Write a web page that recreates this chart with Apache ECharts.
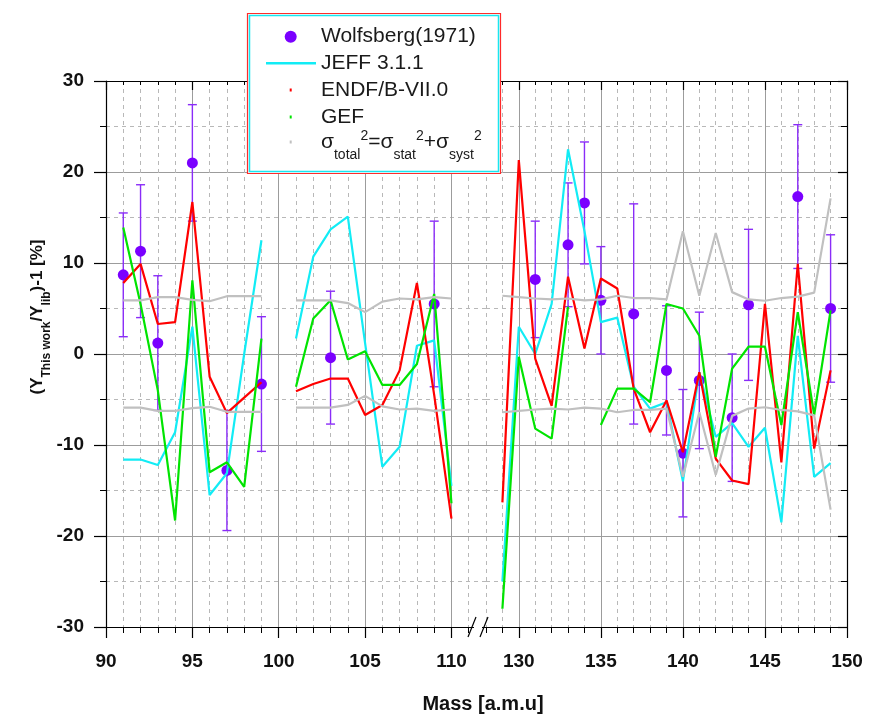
<!DOCTYPE html>
<html>
<head>
<meta charset="utf-8">
<script src="https://cdn.jsdelivr.net/npm/echarts@6/dist/echarts.min.js"></script>
<style>
  html, body { margin: 0; padding: 0; background: #fff; }
  #chart { width: 871px; height: 717px; }
</style>
</head>
<body>
<div id="chart"></div>
<script>
// ---- Light fragment group (A = 91..110), 100 has no value ----
const lightMass  = [91, 92, 93, 94, 95, 96, 97, 98, 99, 100, 101, 102, 103, 104, 105, 106, 107, 108, 109, 110];
const jeffLight  = [-11.6, -11.6, -12.2, -8.6, 3.0, -15.5, -13.1, 0.0, 12.5, null, 1.7, 10.7, 13.7, 15.1, 1.2, -12.4, -10.2, 0.9, 1.5, -14.5];
const endfLight  = [7.8, 9.9, 3.3, 3.5, 16.7, -2.5, -6.5, -4.8, -3.1, null, -4.1, -3.3, -2.7, -2.7, -6.7, -5.6, -1.8, 7.8, -4.5, -18.1];
const gefLight   = [13.9, 5.5, -4.0, -18.3, 8.1, -13.0, -11.9, -14.6, 1.7, null, -3.6, 3.9, 5.9, -0.6, 0.3, -3.4, -3.4, -1.1, 6.6, -16.4];
const sigmaLight = [5.9, 5.9, 6.25, 6.25, 5.95, 5.8, 6.35, 6.35, 6.35, null, 5.9, 5.9, 5.9, 5.6, 4.6, 5.75, 6.1, 6.0, 6.25, 6.1];

// ---- Heavy fragment group (A = 129..149), GEF has no value at 134 ----
const heavyMass  = [129, 130, 131, 132, 133, 134, 135, 136, 137, 138, 139, 140, 141, 142, 143, 144, 145, 146, 147, 148, 149];
const jeffHeavy  = [-25.0, 3.0, 0.0, 5.5, 22.5, 13.5, 3.5, 4.0, -3.6, -6.0, -5.3, -14.0, -2.0, -9.1, -7.6, -10.2, -8.1, -18.5, 2.0, -13.5, -12.0];
const endfHeavy  = [-16.3, 21.3, -0.5, -5.7, 8.5, 0.6, 8.3, 7.2, -3.8, -8.6, -5.1, -10.8, -2.0, -11.5, -13.9, -14.3, 5.5, -11.9, 9.9, -10.4, -1.8];
const gefHeavy   = [-28.0, -0.3, -8.2, -9.3, 5.2, null, -7.8, -3.8, -3.8, -5.3, 5.5, 5.0, 2.0, -11.3, -1.6, 0.8, 0.8, -7.8, 4.6, -6.7, 4.8];
const sigmaHeavy = [6.4, 6.25, 6.1, 6.0, 6.1, 5.9, 6.0, 6.4, 6.15, 6.15, 6.0, 13.5, 6.4, 13.3, 6.8, 6.0, 5.85, 6.15, 6.3, 6.75, 17.1];

// ---- Wolfsberg (1971) data points with their uncertainties ----
const wolfMass  = [91, 92, 93, 95, 97, 99, 103, 109, 131, 133, 134, 135, 137, 139, 140, 141, 143, 144, 147, 149];
const wolfValue = [8.7, 11.3, 1.2, 21.0, -12.8, -3.3, -0.4, 5.5, 8.2, 12.0, 16.6, 5.9, 4.4, -1.8, -10.9, -2.9, -7.0, 5.4, 17.3, 5.0];
const wolfError = [6.8, 7.3, 7.4, 6.4, 6.6, 7.4, 7.3, 9.1, 6.4, 6.8, 6.7, 5.9, 12.1, 7.1, 7.0, 7.5, 7.0, 8.3, 7.9, 8.1];

// ---- Axis ticks ----
const lightMajorTicks = [90, 95, 100, 105, 110];
const heavyMajorTicks = [130, 135, 140, 145, 150];
const yRange = [-30, 30];

const NAME_W = 'Wolfsberg(1971)';
const NAME_J = 'JEFF 3.1.1';
const NAME_E = 'ENDF/B-VII.0';
const NAME_G = 'GEF';
const NAME_S = 'σtotal2=σstat2+σsyst2';

const FONT = "'Liberation Sans', Arial, sans-serif";
const C_POINT = '#7a00ff', C_BAR = '#8a2cf8';
const C_JEFF = '#12ecf5', C_ENDF = '#ff0000', C_GEF = '#00e400', C_SIG = '#c0c0c0';
const C_MAJOR = '#9c9c9c', C_MINOR = '#b8b8b8';

const pairs = (ms, vs) => ms.map((m, i) => [m, vs[i] == null ? null : vs[i]]);
const signed = (vs, k) => vs.map(v => v == null ? null : k * v);

const wolfLight = [], wolfHeavy = [];
wolfMass.forEach((m, i) => (m < 120 ? wolfLight : wolfHeavy).push([m, wolfValue[i], wolfError[i]]));

// x axes: per grid a minor (every mass unit) and a major (every 5) axis, bottom and top
function xAxes(grid, min, max, majors) {
  const base = { type: 'value', gridIndex: grid, min: min, max: max };
  return [
    Object.assign({}, base, {
      position: 'bottom', interval: 1,
      axisLine: { show: true, onZero: false, lineStyle: { color: '#000', width: 1.2 } },
      axisTick: { show: true, inside: false, length: 6, lineStyle: { color: '#000', width: 1 } },
      axisLabel: { show: false },
      splitLine: { show: true, lineStyle: { color: C_MINOR, width: 1, type: [4, 4] } }
    }),
    Object.assign({}, base, {
      position: 'bottom',
      axisLine: { show: false, onZero: false },
      axisTick: { show: true, inside: false, length: 11, customValues: majors, lineStyle: { color: '#000', width: 1.2 } },
      axisLabel: { show: true, customValues: majors, margin: 25, fontSize: 19, fontWeight: 'bold', fontFamily: FONT, color: '#111' },
      splitLine: { show: true, lineStyle: { color: C_MAJOR, width: 1 } }
    }),
    Object.assign({}, base, {
      position: 'top', interval: 1,
      axisLine: { show: true, onZero: false, lineStyle: { color: '#000', width: 1.2 } },
      axisTick: { show: true, inside: true, length: 4, lineStyle: { color: '#000', width: 1 } },
      axisLabel: { show: false },
      splitLine: { show: false }
    }),
    Object.assign({}, base, {
      position: 'top',
      axisLine: { show: false, onZero: false },
      axisTick: { show: true, inside: true, length: 9, customValues: majors, lineStyle: { color: '#000', width: 1.2 } },
      axisLabel: { show: false },
      splitLine: { show: false }
    })
  ];
}

function yAxis(grid, pos, inside, labels) {
  return {
    type: 'value', gridIndex: grid, position: pos, min: yRange[0], max: yRange[1], interval: 10,
    axisLine: { show: true, onZero: false, lineStyle: { color: '#000', width: 1.2 } },
    axisTick: { show: true, inside: inside, length: inside ? 9 : 12, lineStyle: { color: '#000', width: 1.2 } },
    minorTick: { show: true, splitNumber: 2, length: 6, lineStyle: { color: '#000', width: 1 } },
    axisLabel: { show: labels, margin: 22, fontSize: 19, fontWeight: 'bold', fontFamily: FONT, color: '#111' },
    splitLine: { show: true, lineStyle: { color: C_MAJOR, width: 1 } },
    minorSplitLine: { show: true, lineStyle: { color: C_MINOR, width: 1, type: [4, 4] } }
  };
}

function lineSeries(name, color, data, xi, yi) {
  return {
    type: 'line', name: name, data: data, xAxisIndex: xi, yAxisIndex: yi,
    color: color, showSymbol: false, symbol: 'none', connectNulls: false,
    lineStyle: { color: color, width: 2.2 }, itemStyle: { color: color, opacity: 1 },
    silent: true, z: 3, animation: false
  };
}

function pointSeries(data, xi, yi) {
  return {
    type: 'scatter', name: NAME_W, data: data, xAxisIndex: xi, yAxisIndex: yi,
    encode: { x: 0, y: 1 }, symbol: 'circle', symbolSize: 11,
    itemStyle: { color: C_POINT, opacity: 1 }, color: C_POINT, silent: true, z: 2, animation: false
  };
}

function errorSeries(data, xi, yi) {
  return {
    type: 'custom', name: NAME_W, data: data, xAxisIndex: xi, yAxisIndex: yi,
    encode: { x: 0, y: 1 }, silent: true, z: 1, animation: false, color: C_POINT,
    renderItem: function (params, api) {
      const x = api.value(0), y = api.value(1), e = api.value(2);
      const hi = api.coord([x, y + e]);
      const lo = api.coord([x, y - e]);
      const w = 4.5;
      const st = { stroke: C_BAR, lineWidth: 1.4 };
      return {
        type: 'group', children: [
          { type: 'line', shape: { x1: hi[0], y1: hi[1], x2: lo[0], y2: lo[1] }, style: st },
          { type: 'line', shape: { x1: hi[0] - w, y1: hi[1], x2: hi[0] + w, y2: hi[1] }, style: st },
          { type: 'line', shape: { x1: lo[0] - w, y1: lo[1], x2: lo[0] + w, y2: lo[1] }, style: st }
        ]
      };
    }
  };
}

// legend icons: a fixed 50x14 box with the mark drawn inside
const ICON_DOT  = 'path://M0 0 M50 14 M18.7 7 A6 6 0 1 1 30.7 7 A6 6 0 1 1 18.7 7 Z';
const ICON_LINE = 'path://M0 0 M50 14 M0 5.8 L50 5.8 L50 8.3 L0 8.3 Z';
const ICON_TICK = 'path://M0 0 M50 14 M23.7 5.5 L25.7 5.5 L25.7 8.5 L23.7 8.5 Z';

function legendRow(name, icon, top, extra) {
  return Object.assign({
    data: [{ name: name, icon: icon }],
    left: 266, top: top, orient: 'vertical', padding: 0,
    itemWidth: 50, itemHeight: 14, itemGap: 0, selectedMode: false, z: 60,
    itemStyle: { borderWidth: 0, opacity: 1 },
    textStyle: { fontSize: 21, color: '#1a1a1a', fontFamily: FONT }
  }, extra || {});
}

const option = {
  backgroundColor: '#ffffff',
  animation: false,
  title: {
    text: 'Mass [a.m.u]', left: 478, top: 689, textAlign: 'center',
    textStyle: { fontSize: 20, fontWeight: 'bold', fontFamily: FONT, color: '#111' }
  },
  grid: [
    { left: 106, top: 81, width: 380, height: 546, outerBoundsMode: 'none' },
    { left: 486, top: 81, width: 361, height: 546, outerBoundsMode: 'none' }
  ],
  xAxis: [].concat(
    xAxes(0, 90, 112, lightMajorTicks),
    xAxes(1, 128, 150, heavyMajorTicks)
  ),
  yAxis: [
    yAxis(0, 'left', false, true),
    yAxis(1, 'right', true, false)
  ],
  legend: [
    legendRow(NAME_W, ICON_DOT, 26.2),
    legendRow(NAME_J, ICON_LINE, 52.8),
    legendRow(NAME_E, ICON_TICK, 79.5),
    legendRow(NAME_G, ICON_TICK, 106.5),
    legendRow(NAME_S, ICON_TICK, 129, {
      formatter: function () {
        return '{m|σ}{sb|total}{sp|2}{m|=σ}{sb|stat}{sp|2}{m|+σ}{sb|syst}{sp|2}';
      },
      textStyle: {
        fontSize: 21, color: '#1a1a1a', fontFamily: FONT,
        rich: {
          m:  { fontSize: 21, lineHeight: 40, fontFamily: FONT, color: '#1a1a1a' },
          sb: { fontSize: 14, lineHeight: 14, verticalAlign: 'bottom', fontFamily: FONT, color: '#1a1a1a' },
          sp: { fontSize: 14, verticalAlign: 'top', padding: [7, 0, 0, 0], fontFamily: FONT, color: '#1a1a1a' }
        }
      }
    })
  ],
  graphic: [
    // legend frame
    { type: 'rect', z: 50, shape: { x: 247.5, y: 13.5, width: 253, height: 160 },
      style: { fill: '#fff', stroke: '#ff2a2a', lineWidth: 1.2 } },
    { type: 'rect', z: 51, shape: { x: 249.5, y: 15.5, width: 249, height: 156 },
      style: { fill: 'none', stroke: '#19e6f0', lineWidth: 1.5 } },
    // axis break marks
    { type: 'rect', z: 50, shape: { x: 474, y: 623, width: 8, height: 8 }, style: { fill: '#fff' } },
    { type: 'line', z: 51, shape: { x1: 468, y1: 637, x2: 476, y2: 617 }, style: { stroke: '#000', lineWidth: 1.2 } },
    { type: 'line', z: 51, shape: { x1: 480, y1: 637, x2: 488, y2: 617 }, style: { stroke: '#000', lineWidth: 1.2 } },
    // y axis title
    { type: 'text', z: 50, x: 37.4, y: 317, rotation: Math.PI / 2,
      style: {
        text: '{m|(Y}{s|This work}{m|/Y}{s|lib}{m|)-1 [%]}',
        align: 'center', verticalAlign: 'middle', fill: '#111',
        rich: {
          m: { fontSize: 17, fontWeight: 'bold', lineHeight: 30, fontFamily: FONT, fill: '#111' },
          s: { fontSize: 12, fontWeight: 'bold', lineHeight: 17.2, verticalAlign: 'bottom', fontFamily: FONT, fill: '#111' }
        }
      } }
  ],
  series: [
    pointSeries(wolfLight, 0, 0),
    pointSeries(wolfHeavy, 4, 1),
    errorSeries(wolfLight, 0, 0),
    errorSeries(wolfHeavy, 4, 1),
    lineSeries(NAME_J, C_JEFF, pairs(lightMass, jeffLight), 0, 0),
    lineSeries(NAME_J, C_JEFF, pairs(heavyMass, jeffHeavy), 4, 1),
    lineSeries(NAME_E, C_ENDF, pairs(lightMass, endfLight), 0, 0),
    lineSeries(NAME_E, C_ENDF, pairs(heavyMass, endfHeavy), 4, 1),
    lineSeries(NAME_G, C_GEF, pairs(lightMass, gefLight), 0, 0),
    lineSeries(NAME_G, C_GEF, pairs(heavyMass, gefHeavy), 4, 1),
    lineSeries(NAME_S, C_SIG, pairs(lightMass, signed(sigmaLight, 1)), 0, 0),
    lineSeries(NAME_S, C_SIG, pairs(lightMass, signed(sigmaLight, -1)), 0, 0),
    lineSeries(NAME_S, C_SIG, pairs(heavyMass, signed(sigmaHeavy, 1)), 4, 1),
    lineSeries(NAME_S, C_SIG, pairs(heavyMass, signed(sigmaHeavy, -1)), 4, 1)
  ]
};

const chart = echarts.init(document.getElementById('chart'), null, { renderer: 'canvas', width: 871, height: 717 });
chart.setOption(option);
</script>
</body>
</html>
